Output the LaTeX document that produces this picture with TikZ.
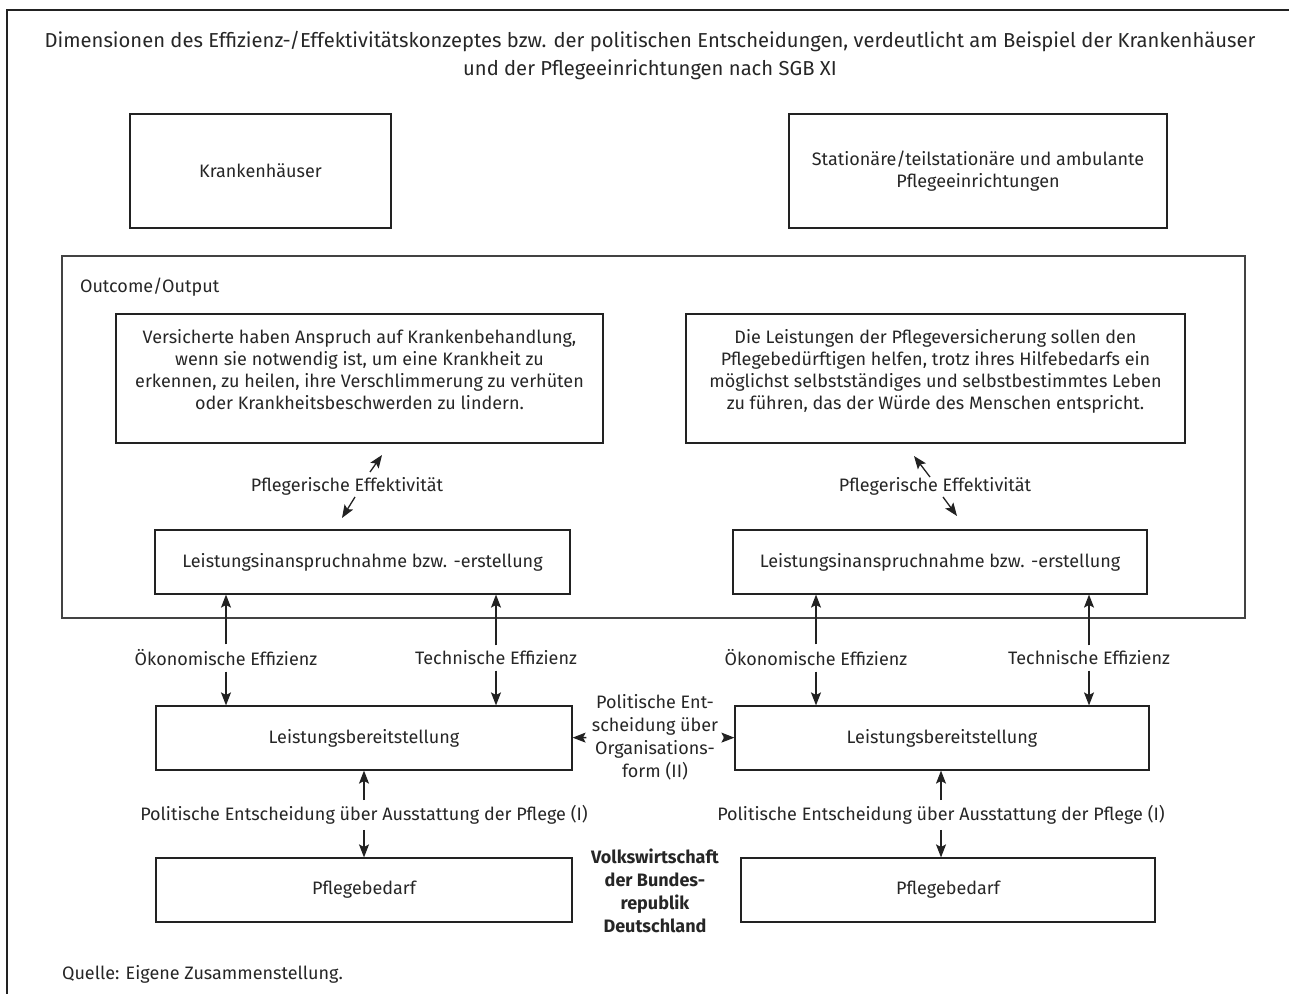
\documentclass[tikz,border=0pt]{standalone}
\usepackage{fontspec}
\setmainfont{Fira Sans}
\usetikzlibrary{arrows.meta}
\definecolor{linie}{HTML}{222222}
\definecolor{schrift}{HTML}{262626}

\begin{document}
\begin{tikzpicture}[x=0.5pt, y=-0.5pt,
    every node/.style={font=\fontsize{9}{11}\selectfont, text=schrift},
    kasten/.style={rectangle, draw=linie, line width=0.6pt, inner sep=0pt, align=center},
    marke/.style={inner sep=2.5pt, align=center},
    pfeil/.style={draw=linie, line width=0.65pt, -{Stealth[length=6.5pt,width=5pt,inset=1.3pt]}}]
\useasboundingbox (0,0) rectangle (1289,994);
% Rahmen
\draw[linie, line width=1.3pt] (7,994) -- (7,10) -- (1289,10);

\node[align=center, font=\fontsize{10.1}{14}\selectfont] (titel) at (650,56)
  {Dimensionen des Effizienz-/Effektivitätskonzeptes bzw. der politischen Entscheidungen, verdeutlicht am Beispiel der Krankenhäuser\\
   und der Pflegeeinrichtungen nach SGB XI};

% obere Kaesten
\node[kasten, minimum width=130.5pt, minimum height=57pt] (kh) at (260.5,171) {Krankenhäuser};
\node[kasten, minimum width=189pt, minimum height=57pt] (pflege) at (978,171)
  {Stationäre/teilstationäre und ambulante\\Pflegeeinrichtungen};

% Outcome/Output
\node[kasten, draw=linie!85, minimum width=591.5pt, minimum height=181pt] (outcome) at (653.5,437) {};
\node[anchor=west] (outlbl) at (73,287) {Outcome/Output};

\node[kasten, minimum width=243.5pt, minimum height=64.5pt, text depth=9pt] (ziel1) at (359.5,378.5)
  {Versicherte haben Anspruch auf Krankenbehandlung,\\
   wenn sie notwendig ist, um eine Krankheit zu\\
   erkennen, zu heilen, ihre Verschlimmerung zu verhüten\\
   oder Krankheitsbeschwerden zu lindern.};
\node[kasten, minimum width=249.5pt, minimum height=64.5pt, text depth=9pt] (ziel2) at (935.5,378.5)
  {Die Leistungen der Pflegeversicherung sollen den\\
   Pflegebedürftigen helfen, trotz ihres Hilfebedarfs ein\\
   möglichst selbstständiges und selbstbestimmtes Leben\\
   zu führen, das der Würde des Menschen entspricht.};

\node[marke] (eff1) at (347,486) {Pflegerische Effektivität};
\node[marke] (eff2) at (935,486) {Pflegerische Effektivität};
\coordinate (e1a) at (370,472); \coordinate (e1b) at (382,455);
\coordinate (e1c) at (355,497); \coordinate (e1d) at (342,518);
\coordinate (e2a) at (930,477); \coordinate (e2b) at (914,456);
\coordinate (e2c) at (943,497); \coordinate (e2d) at (957,516);
\draw[pfeil] (e1a) -- (e1b);
\draw[pfeil] (e1c) -- (e1d);
\draw[pfeil] (e2a) -- (e2b);
\draw[pfeil] (e2c) -- (e2d);

\node[kasten, minimum width=207.5pt, minimum height=32pt] (inan1) at (362.5,562)
  {Leistungsinanspruchnahme bzw. -erstellung};
\node[kasten, minimum width=207pt, minimum height=32pt] (inan2) at (940,562)
  {Leistungsinanspruchnahme bzw. -erstellung};

% Effizienz
\node[marke] (oek1) at (226,658) {Ökonomische Effizienz};
\node[marke] (tech1) at (496,658) {Technische Effizienz};
\node[marke] (oek2) at (816,658) {Ökonomische Effizienz};
\node[marke] (tech2) at (1089,658) {Technische Effizienz};

\node[kasten, minimum width=208pt, minimum height=32pt] (bereit1) at (364,738) {Leistungsbereitstellung};
\node[kasten, minimum width=207pt, minimum height=32pt] (bereit2) at (942,738) {Leistungsbereitstellung};

\foreach \lbl/\oben/\unten in {oek1/inan1/bereit1, tech1/inan1/bereit1, oek2/inan2/bereit2, tech2/inan2/bereit2}{
  \draw[pfeil] (\lbl) -- (\lbl |- \oben.south);
  \draw[pfeil] (\lbl) -- (\lbl |- \unten.north);
}

\node[marke, font=\fontsize{9}{11.5}\selectfont] (org) at (655,737.5)
  {Politische Ent-\\scheidung über\\Organisations-\\form (II)};
\draw[pfeil] (org) -- (bereit1);
\draw[pfeil] (org) -- (bereit2);

% Ausstattung
\node[marke] (ausst1) at (364,815) {Politische Entscheidung über Ausstattung der Pflege (I)};
\node[marke] (ausst2) at (941,815) {Politische Entscheidung über Ausstattung der Pflege (I)};

\node[kasten, minimum width=208pt, minimum height=32pt] (bedarf1) at (364,890) {Pflegebedarf};
\node[kasten, minimum width=207pt, minimum height=32pt] (bedarf2) at (948,890) {Pflegebedarf};

\draw[pfeil] (ausst1) -- (ausst1 |- bereit1.south);
\draw[pfeil] (ausst1) -- (ausst1 |- bedarf1.north);
\draw[pfeil] (ausst2) -- (ausst2 |- bereit2.south);
\draw[pfeil] (ausst2) -- (ausst2 |- bedarf2.north);

\node[marke, font=\fontsize{9}{11.4}\selectfont\bfseries] (vw) at (655,891)
  {Volkswirtschaft\\der Bundes-\\republik\\Deutschland};

\node[anchor=west] (quelle) at (55,974) {Quelle: Eigene Zusammenstellung.};
\end{tikzpicture}
\end{document}
